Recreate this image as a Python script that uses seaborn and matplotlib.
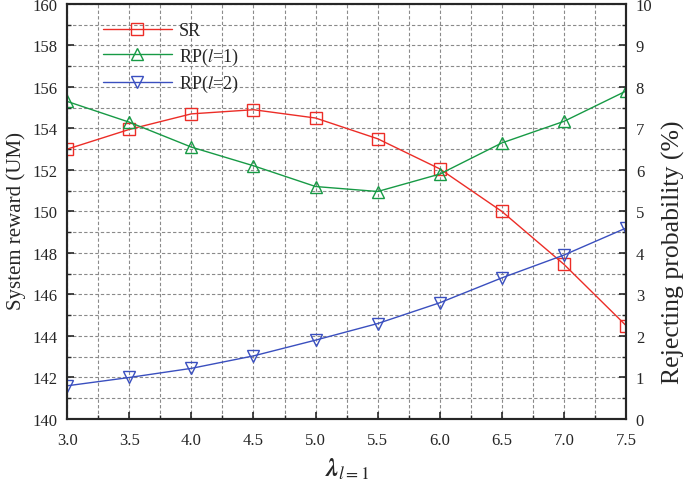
import numpy as np
import pandas as pd
import matplotlib
matplotlib.use('Agg')
import matplotlib.pyplot as plt
import seaborn as sns
from matplotlib.ticker import MultipleLocator

# data
lam = [3.0, 3.5, 4.0, 4.5, 5.0, 5.5, 6.0, 6.5, 7.0, 7.5]
sr = [153.0, 153.95, 154.7, 154.9, 154.5, 153.5, 152.05, 150.0, 147.45, 144.5]
rp_l1 = [7.65, 7.15, 6.55, 6.1, 5.6, 5.48, 5.9, 6.65, 7.17, 7.9]
rp_l2 = [0.8, 1.0, 1.22, 1.52, 1.9, 2.3, 2.8, 3.4, 3.95, 4.6]

sns.set_style('ticks')
plt.rcParams['font.family'] = ['Liberation Serif', 'DejaVu Serif']
plt.rcParams['mathtext.fontset'] = 'stix'
plt.rcParams['xtick.direction'] = 'in'
plt.rcParams['ytick.direction'] = 'in'

red, green, blue = '#ec2d27', '#179a45', '#3a4fbf'

df = pd.DataFrame({'lam': lam, 'sr': sr, 'rp1': rp_l1, 'rp2': rp_l2})

fig = plt.figure(figsize=(6.85, 4.85), dpi=100)
ax = fig.add_axes([0.098, 0.134, 0.816, 0.856])
ax2 = ax.twinx()

mk = dict(markersize=9, markerfacecolor='none', markeredgewidth=1.0, linewidth=1.0)
sns.lineplot(data=df, x='lam', y='sr', ax=ax, color=red, marker='s', markeredgecolor=red, label='SR', legend=False, **mk)
sns.lineplot(data=df, x='lam', y='rp1', ax=ax2, color=green, marker='^', markeredgecolor=green, label='RP($l$=1)', legend=False, **mk)
sns.lineplot(data=df, x='lam', y='rp2', ax=ax2, color=blue, marker='v', markeredgecolor=blue, label='RP($l$=2)', legend=False, **mk)

ax.set_xlim(3.0, 7.5)
ax.set_ylim(140, 160)
ax2.set_ylim(0, 10)
ax.xaxis.set_major_locator(MultipleLocator(0.5))
ax.xaxis.set_minor_locator(MultipleLocator(0.25))
ax.yaxis.set_major_locator(MultipleLocator(2))
ax.yaxis.set_minor_locator(MultipleLocator(1))
ax2.yaxis.set_major_locator(MultipleLocator(1))
ax2.yaxis.set_minor_locator(MultipleLocator(0.5))
ax.xaxis.set_major_formatter(matplotlib.ticker.FormatStrFormatter('%.1f'))

ax.grid(True, which='both', linestyle=(0, (3, 2)), color='#8a8a8a', linewidth=0.8)
ax.set_axisbelow(True)

for a in (ax, ax2):
    a.tick_params(which='major', length=5, width=1.2, labelsize=12, pad=7)
    a.tick_params(which='minor', length=3, width=1.0)
    for s in a.spines.values():
        s.set_linewidth(1.5)
ax.tick_params(axis='x', which='both', top=False, pad=9)

ax.set_xlabel(r'$\mathbfit{\lambda}_{l=1}$', fontsize=18, labelpad=6)
ax.set_ylabel('System reward (UM)', fontsize=15)
ax2.set_ylabel('Rejecting probability (%)', fontsize=18.5)
ax.yaxis.set_label_coords(-0.073, 0.48)
ax2.yaxis.set_label_coords(1.064, 0.405)

h1, l1 = ax.get_legend_handles_labels()
h2, l2 = ax2.get_legend_handles_labels()
ax.legend(h1 + h2, l1 + l2, loc='upper left', bbox_to_anchor=(0.035, 0.995), frameon=False,
          fontsize=13, handlelength=3.8, labelspacing=0.35, handletextpad=0.4)

fig.savefig('out.png', dpi=100)
